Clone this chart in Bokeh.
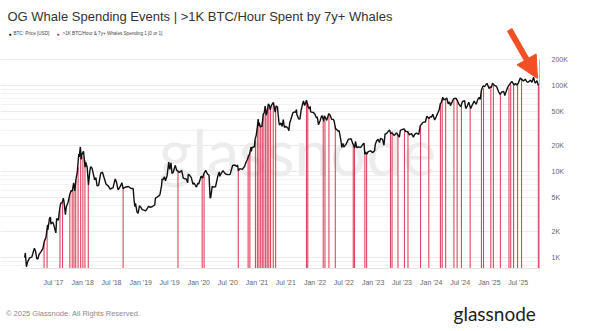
import pandas as pd
from bokeh.plotting import figure
from bokeh.layouts import column
from bokeh.models import Range1d, FixedTicker, Label, Arrow, NormalHead, ColumnDataSource
from bokeh.core.properties import value
from bokeh.embed import file_html
from bokeh.resources import INLINE

# ---------------- data ----------------
price_dates = [
 "2017-01-01","2017-01-05","2017-01-12","2017-01-20","2017-02-01","2017-02-15","2017-02-25","2017-03-03","2017-03-10","2017-03-18","2017-03-25",
 "2017-04-01","2017-04-15","2017-04-25","2017-05-05","2017-05-15","2017-05-25","2017-05-27","2017-06-06","2017-06-12","2017-06-15","2017-06-25",
 "2017-07-01","2017-07-16","2017-07-21","2017-08-01","2017-08-05","2017-08-13","2017-08-17","2017-08-25","2017-09-01","2017-09-05","2017-09-14",
 "2017-09-20","2017-10-01","2017-10-12","2017-10-20","2017-10-27","2017-11-05","2017-11-12","2017-11-20","2017-11-28","2017-12-07","2017-12-10",
 "2017-12-17","2017-12-22","2017-12-27",
 "2018-01-06","2018-01-16","2018-01-20","2018-01-29","2018-02-06","2018-02-15","2018-02-20","2018-03-01","2018-03-09","2018-03-17","2018-03-25",
 "2018-04-01","2018-04-11","2018-04-24","2018-05-05","2018-05-15","2018-05-28","2018-06-10","2018-06-24","2018-07-01","2018-07-10","2018-07-24",
 "2018-08-01","2018-08-10","2018-08-14","2018-08-25","2018-09-04","2018-09-12","2018-09-20","2018-10-01","2018-10-15","2018-11-01","2018-11-14",
 "2018-11-20","2018-11-25","2018-11-29","2018-12-08","2018-12-15","2018-12-24",
 "2019-01-01","2019-01-10","2019-01-20","2019-02-01","2019-02-08","2019-02-20","2019-03-01","2019-03-15","2019-03-30","2019-04-03","2019-04-15",
 "2019-04-25","2019-05-01","2019-05-12","2019-05-15","2019-05-20","2019-05-30","2019-06-05","2019-06-15","2019-06-26","2019-07-02","2019-07-10",
 "2019-07-16","2019-07-24","2019-08-06","2019-08-15","2019-08-23","2019-09-01","2019-09-15","2019-09-25","2019-10-01","2019-10-15","2019-10-23",
 "2019-10-26","2019-11-01","2019-11-15","2019-11-25","2019-12-01","2019-12-17","2019-12-25",
 "2020-01-01","2020-01-15","2020-01-25","2020-02-01","2020-02-13","2020-02-25","2020-03-05","2020-03-12","2020-03-16","2020-03-25","2020-04-01",
 "2020-04-15","2020-04-29","2020-05-08","2020-05-12","2020-05-20","2020-06-01","2020-06-10","2020-06-20","2020-07-01","2020-07-15","2020-07-27",
 "2020-08-01","2020-08-15","2020-08-25","2020-09-01","2020-09-05","2020-09-15","2020-10-01","2020-10-15","2020-10-25","2020-11-01","2020-11-10",
 "2020-11-15","2020-11-24","2020-11-26","2020-12-01","2020-12-15","2020-12-20","2020-12-27",
 "2021-01-03","2021-01-08","2021-01-12","2021-01-15","2021-01-22","2021-01-28","2021-02-01","2021-02-09","2021-02-15","2021-02-21","2021-02-28",
 "2021-03-05","2021-03-13","2021-03-20","2021-03-25","2021-04-01","2021-04-14","2021-04-25","2021-05-01","2021-05-10","2021-05-12","2021-05-19",
 "2021-05-23","2021-06-01","2021-06-08","2021-06-15","2021-06-22","2021-07-01","2021-07-15","2021-07-20","2021-07-26","2021-08-01","2021-08-14",
 "2021-08-22","2021-09-01","2021-09-06","2021-09-08","2021-09-21","2021-09-28","2021-10-05","2021-10-15","2021-10-20","2021-10-27","2021-11-01",
 "2021-11-08","2021-11-10","2021-11-18","2021-11-26","2021-12-01","2021-12-04","2021-12-15","2021-12-22","2021-12-31",
 "2022-01-10","2022-01-15","2022-01-22","2022-02-01","2022-02-10","2022-02-15","2022-02-24","2022-03-01","2022-03-15","2022-03-28","2022-04-05",
 "2022-04-15","2022-04-25","2022-05-01","2022-05-10","2022-05-15","2022-05-25","2022-06-01","2022-06-13","2022-06-18","2022-06-25","2022-07-01",
 "2022-07-15","2022-07-30","2022-08-10","2022-08-15","2022-08-25","2022-09-01","2022-09-07","2022-09-12","2022-09-20","2022-10-01","2022-10-15",
 "2022-10-29","2022-11-05","2022-11-09","2022-11-15","2022-11-21","2022-12-01","2022-12-15","2022-12-30",
 "2023-01-10","2023-01-15","2023-01-25","2023-02-01","2023-02-10","2023-02-16","2023-03-01","2023-03-10","2023-03-17","2023-03-25","2023-04-01",
 "2023-04-14","2023-04-21","2023-05-01","2023-05-12","2023-05-28","2023-06-10","2023-06-15","2023-06-21","2023-07-01","2023-07-13","2023-07-25",
 "2023-08-05","2023-08-17","2023-08-29","2023-09-11","2023-09-20","2023-10-01","2023-10-15","2023-10-24","2023-11-01","2023-11-10","2023-11-25",
 "2023-12-05","2023-12-18","2023-12-27",
 "2024-01-03","2024-01-11","2024-01-23","2024-02-01","2024-02-12","2024-02-20","2024-02-28","2024-03-05","2024-03-14","2024-03-20","2024-04-01",
 "2024-04-08","2024-04-17","2024-04-25","2024-05-01","2024-05-15","2024-05-21","2024-06-05","2024-06-15","2024-06-24","2024-07-05","2024-07-15",
 "2024-07-29","2024-08-05","2024-08-15","2024-08-24","2024-09-06","2024-09-15","2024-09-27","2024-10-10","2024-10-20","2024-10-29","2024-11-04",
 "2024-11-12","2024-11-22","2024-12-01","2024-12-05","2024-12-17","2024-12-30",
 "2025-01-07","2025-01-13","2025-01-20","2025-02-01","2025-02-15","2025-02-28","2025-03-10","2025-03-20","2025-04-01","2025-04-08","2025-04-15",
 "2025-04-25","2025-05-08","2025-05-22","2025-06-05","2025-06-15","2025-06-22","2025-07-01","2025-07-14","2025-07-25","2025-08-03","2025-08-14",
 "2025-08-25","2025-09-01","2025-09-15","2025-09-25","2025-10-06","2025-10-11","2025-10-17","2025-10-27","2025-11-04","2025-11-06",
]
price_usd = [
 998,1130,780,895,990,1010,1180,1280,1190,970,960,
 1080,1180,1265,1550,1720,2400,2100,2860,2950,2440,2580,
 2480,1930,2830,2720,3220,4070,4300,4350,4900,4500,3150,
 3900,4400,5440,6000,5900,7400,5950,8200,9900,16000,14800,
 19300,13800,15800,
 17200,11200,12800,11200,7000,10200,11400,10900,9300,8000,8500,
 6800,6900,9600,9800,8500,7100,6800,6200,6400,6400,8200,
 7600,6200,6200,6700,7400,6300,6500,6600,6700,6350,6350,
 4600,3900,4250,3400,3250,4000,
 3850,3600,3550,3480,3650,3950,3830,3920,4100,4900,5050,
 5200,5350,6900,8200,8000,8700,7800,8800,12900,10600,12600,
 9500,9800,11800,10300,10100,9750,10300,8400,8300,8150,7400,
 9250,9200,8500,7100,7400,6600,7250,
 7200,8800,8400,9400,10300,9300,9100,4900,5000,6700,6600,
 6650,8800,9900,8800,9500,10200,9700,9300,9230,9200,11000,
 11800,11900,11400,11900,10200,10800,10600,11500,13000,13800,15300,
 15900,19200,17100,19000,19400,23800,26500,
 32800,40600,34000,36800,32900,33400,33500,46500,48000,57500,45200,
 48900,61200,58000,52300,58700,63500,49000,57800,56000,49200,37000,
 34700,36700,33400,40200,32500,33500,31800,29800,37200,39900,47800,
 49300,48800,52700,46400,40600,41000,51500,61600,66000,58500,61300,
 67600,65000,56900,53600,57200,49400,48900,48600,46300,
 41800,43100,35000,38700,43800,44500,38300,44400,39300,47100,45500,
 40500,40400,38500,31000,31300,29500,29800,22500,19000,21200,19300,
 20800,23800,23900,24100,21400,20100,18800,22400,18900,19300,19100,
 20800,21300,15900,16900,15800,17000,17400,16600,
 17400,20900,23000,23700,21700,24300,23600,20200,27400,27500,28500,
 30500,27800,28000,26300,28100,25800,25100,30000,30600,31400,29200,
 29100,26600,27700,25100,27200,27900,27100,33900,35400,37300,37700,
 43900,41300,43400,
 42900,46300,39800,43100,48300,52000,61400,63800,73000,67900,69700,
 71600,61300,64400,58300,66200,70100,71000,66200,60300,56700,64800,
 66800,54000,57600,64100,53900,59200,65800,60300,69000,72700,68800,
 88700,98900,97200,98800,106100,92300,
 96900,94500,106000,100600,97500,84400,78600,84200,85200,76300,83700,
 94700,103200,111700,101600,105500,101000,105700,122000,117600,112500,118300,
 110100,109200,115400,109000,124700,113000,106500,114100,101500,103800,
]

event_dates = [
 "2017-05-03","2017-05-22","2017-08-11","2017-08-27","2017-10-12","2017-10-27","2017-11-07","2017-11-18","2017-12-03","2017-12-19",
 "2018-01-02","2018-01-15","2018-02-05","2018-09-12","2019-08-23","2020-01-22","2020-02-03","2020-09-05","2020-11-06","2020-11-17",
 "2020-12-22","2021-01-03","2021-01-13","2021-01-24","2021-02-03","2021-02-13","2021-02-24","2021-03-06","2021-03-16","2021-03-27",
 "2021-04-13","2021-04-28","2021-11-08","2021-11-16","2022-02-21","2022-03-04","2022-03-29","2022-05-08","2022-08-29","2022-09-06",
 "2022-11-10","2022-11-21","2023-04-20","2023-04-30","2023-06-06","2023-07-17","2023-08-08","2023-10-26","2023-12-17","2024-02-28",
 "2024-03-10","2024-04-01","2024-05-23","2024-06-12","2024-07-09","2024-09-02","2024-11-12","2024-11-25","2025-01-10","2025-01-26",
 "2025-03-11","2025-05-04","2025-05-15","2025-06-02","2025-06-27","2025-07-22","2025-11-05",
]
event_price = [
 1500,2100,3500,4300,5400,5900,7100,7800,11200,18000,
 14800,13600,7000,6300,10100,8650,9300,10200,15500,16700,
 23000,32800,37300,32300,37600,47200,49700,48900,56000,55800,
 63000,54900,66000,60500,38300,39200,47400,34000,20200,18800,
 17500,15800,28300,29200,27200,30200,29800,34500,41400,62500,
 69000,69700,67500,68200,58000,57500,88000,93000,94500,102700,
 82900,94300,103700,105700,107000,119000,103800,
]

tick_dates = ["2017-07-01","2018-01-01","2018-07-01","2019-01-01","2019-07-01","2020-01-01","2020-07-01","2021-01-01","2021-07-01",
              "2022-01-01","2022-07-01","2023-01-01","2023-07-01","2024-01-01","2024-07-01","2025-01-01","2025-07-01"]
tick_labels = ["Jul '17","Jan '18","Jul '18","Jan '19","Jul '19","Jan '20","Jul '20","Jan '21","Jul '21",
               "Jan '22","Jul '22","Jan '23","Jul '23","Jan '24","Jul '24","Jan '25","Jul '25"]
y_ticks = [1000, 2000, 5000, 10000, 20000, 50000, 100000, 200000]
y_tick_labels = ["1K", "2K", "5K", "10K", "20K", "50K", "100K", "200K"]

TITLE = "OG Whale Spending Events | >1K BTC/Hour Spent by 7y+ Whales"
LEGEND_PRICE = "BTC: Price [USD]"
LEGEND_EVENT = ">1K BTC/Hour & 7y+ Whales Spending 1 [0 or 1]"
COPYRIGHT = "\u00A9 2025 Glassnode. All Rights Reserved."
BRAND = "glassnode"

# ---------------- layout constants ----------------
W = 591
MAIN_H = 296
FOOT_H = 331 - MAIN_H
TOP = 27            # frame top (canvas px)
BOTTOM = 268        # frame bottom (canvas px)
Y0 = 745            # price at frame bottom
PX_PER_DEC = 86.0
Y1 = Y0 * 10 ** ((BOTTOM - TOP) / PX_PER_DEC)
RED = "#d9334f"
X_AXIS_START = pd.Timestamp("2016-12-18")
X_END = pd.Timestamp("2025-11-12")
X_START = pd.Timestamp("2016-08-02")   # frame extends to the canvas' left edge

p = figure(width=W, height=MAIN_H, x_axis_type="datetime", y_axis_type="log", y_axis_location="right",
           x_range=Range1d(X_START, X_END), y_range=Range1d(Y0, Y1),
           output_backend="svg", toolbar_location=None,
           min_border_left=0, min_border_right=52, min_border_top=TOP, min_border_bottom=MAIN_H - BOTTOM,
           background_fill_color="white", border_fill_color="white", outline_line_color=None)

p.title.text = TITLE
p.title.align = "left"
p.title.offset = 7
p.title.standoff = 7
p.title.text_font = "Liberation Sans"
p.title.text_font_style = "normal"
p.title.text_font_size = "13px"
p.title.text_color = "#333333"

# axes
tick_ms = [pd.Timestamp(d).value // 10**6 for d in tick_dates]
p.xaxis.ticker = FixedTicker(ticks=tick_ms)
p.xaxis.major_label_overrides = {t: l for t, l in zip(tick_ms, tick_labels)}
p.xaxis.bounds = (X_AXIS_START, X_END)
p.xaxis.axis_line_color = "#e3e3e3"
p.xaxis.major_tick_line_color = None
p.xaxis.minor_tick_line_color = None
p.xaxis.major_label_text_font = "Liberation Sans"
p.xaxis.major_label_text_font_size = "7px"
p.xaxis.major_label_text_color = "#666666"
p.xaxis.major_label_standoff = 4

minor = [m * 10**e for e in range(2, 5) for m in range(2, 10)] + [200000]
p.yaxis.ticker = FixedTicker(ticks=y_ticks, minor_ticks=minor)
p.yaxis.major_label_overrides = {t: l for t, l in zip(y_ticks, y_tick_labels)}
p.yaxis.bounds = (Y0, max(y_ticks))
p.yaxis.axis_line_color = "#bdbdbd"
p.yaxis.major_tick_line_color = None
p.yaxis.minor_tick_line_color = None
p.yaxis.major_label_text_font = "Liberation Sans"
p.yaxis.major_label_text_font_size = "7px"
p.yaxis.major_label_text_color = "#666666"
p.yaxis.major_label_standoff = 6

p.xgrid.grid_line_color = None
p.ygrid.grid_line_color = "#ebebeb"
p.ygrid.minor_grid_line_color = "#f3f3f3"

# watermark
p.add_layout(Label(x=297, y=151, x_units="canvas", y_units="canvas", text=BRAND,
                   text_align="center", text_baseline="alphabetic", text_font="Lato", text_font_size="64px",
                   text_color="#ececec", level="underlay"))

# events
ev = ColumnDataSource(dict(x=pd.to_datetime(event_dates), y0=[Y0] * len(event_dates), y1=event_price))
p.segment(x0="x", y0="y0", x1="x", y1="y1", source=ev, line_color=RED, line_width=1.1, line_alpha=0.9)

# price
pr = ColumnDataSource(dict(x=pd.to_datetime(price_dates), y=price_usd))
p.line("x", "y", source=pr, line_color="#111111", line_width=1.4)

# legend (inside the frame, top-left)
def lab(fig, x, y, text, size, color, font="Liberation Sans", align="left"):
    fig.add_layout(Label(x=x, y=y, x_units="canvas", y_units="canvas", text=text,
                         text_font=font, text_font_size=size, text_color=color,
                         text_align=align, text_baseline="middle"))

lab(p, 8, 33, "\u25CF", "5px", "#111111")
lab(p, 13, 33, LEGEND_PRICE, "4.6px", "#444444")
lab(p, 56, 33, "\u25CF", "5px", RED)
lab(p, 62, 33, LEGEND_EVENT, "4.6px", "#444444")

# arrow
p.add_layout(Arrow(x_start=509, y_start=29, x_end=537, y_end=78,
                   start_units="canvas", end_units="canvas",
                   line_color="#f24f26", line_width=6,
                   end=NormalHead(size=22, fill_color="#f24f26", line_color="#f24f26")))

# footer
f = figure(width=W, height=FOOT_H, x_range=Range1d(0, W), y_range=Range1d(FOOT_H, 0),
           output_backend="svg", toolbar_location=None, min_border=0,
           background_fill_color="white", border_fill_color="white", outline_line_color=None)
f.axis.visible = False
f.grid.visible = False
f.text(x=[6], y=[313 - MAIN_H], text=[COPYRIGHT], text_font=value("Liberation Sans"),
       text_font_size=value("7.5px"), text_color="#8a8a8a", text_baseline="middle", text_align="left")
f.text(x=[587], y=[313 - MAIN_H], text=[BRAND], text_font=value("Lato"),
       text_font_size=value("19px"), text_color="#1d1d1d", text_baseline="middle", text_align="right")

layout = column(p, f, spacing=0)
open("out.html", "w").write(file_html(layout, INLINE))
